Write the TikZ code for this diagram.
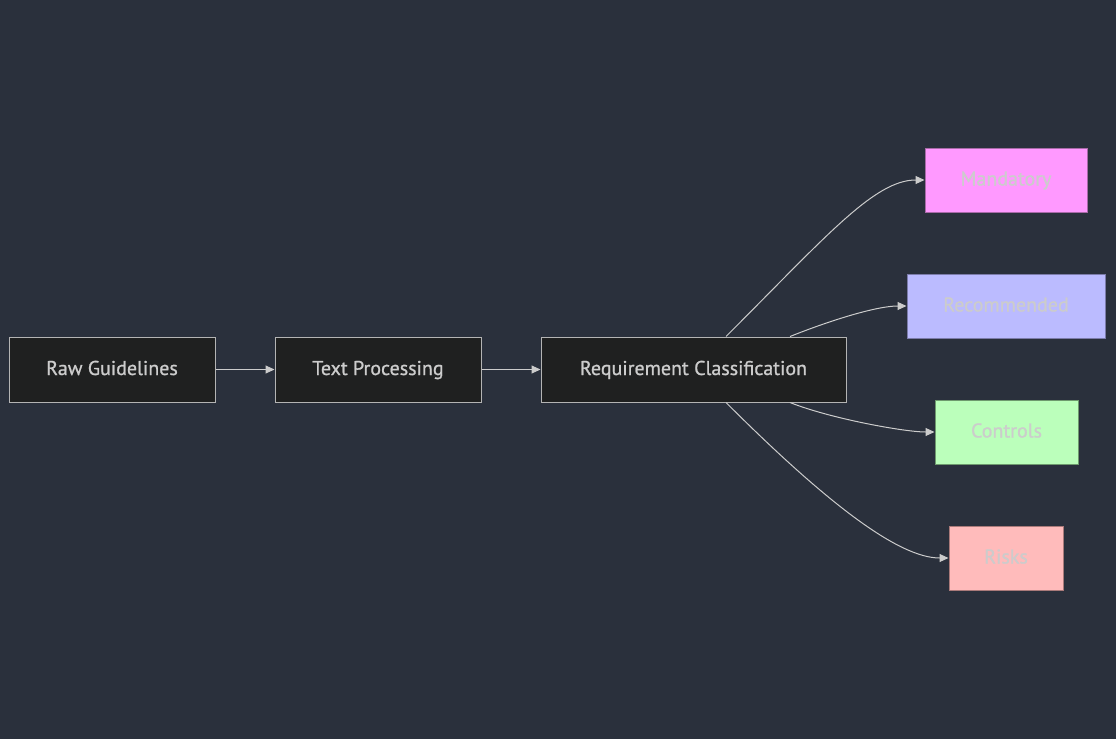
\documentclass[tikz,border=0pt]{standalone}
\usepackage{fontspec}
\setmainfont{PT Sans}
\newfontfamily\labelfont{PT Sans}[FakeBold=0.9]
\usetikzlibrary{arrows.meta}
\definecolor{bgnd}{HTML}{2A303C}
\definecolor{boxfill}{HTML}{1F2020}
\definecolor{boxline}{HTML}{B4B4B4}
\definecolor{ink}{HTML}{CCCCCC}
\definecolor{mandfill}{HTML}{FF99FF}
\definecolor{mandline}{HTML}{A86AA8}
\definecolor{recfill}{HTML}{BBBBFF}
\definecolor{recline}{HTML}{7C7CAA}
\definecolor{ctrlfill}{HTML}{BBFFBB}
\definecolor{ctrlline}{HTML}{6E9A6E}
\definecolor{riskfill}{HTML}{FFBBBB}
\definecolor{riskline}{HTML}{AA7A7A}

\tikzset{
  stage/.style={draw=boxline, fill=boxfill, text=ink, line width=1pt,
    minimum height=65pt, inner sep=0pt, text height=15pt, text depth=4pt,
    font=\labelfont\fontsize{20}{24}\selectfont},
  leaf/.style={stage, minimum height=64pt},
  link/.style={draw=ink, line width=1pt, -{Triangle[length=9pt,width=8pt]}}
}

\begin{document}
\begin{tikzpicture}[x=1pt,y=-1pt]
  \fill[bgnd] (0,0) rectangle (1116,739);
  \useasboundingbox (0,0) rectangle (1116,739);

  \node[stage, minimum width=206pt] (raw)  at (112,369.5) {Raw Guidelines};
  \node[stage, minimum width=206pt] (proc) at (378,369.5) {Text Processing};
  \node[stage, minimum width=305pt] (cls)  at (693.5,369.5) {Requirement Classification};

  \node[leaf, minimum width=162pt, fill=mandfill, draw=mandline] (mand) at (1006,180) {Mandatory};
  \node[leaf, minimum width=198pt, fill=recfill, draw=recline]  (rec)  at (1006,306) {Recommended};
  \node[leaf, minimum width=143pt, fill=ctrlfill, draw=ctrlline] (ctrl) at (1006.5,432) {Controls};
  \node[leaf, minimum width=114pt, fill=riskfill, draw=riskline] (risk) at (1006,558) {Risks};

  % straight chain
  \draw[link] (raw) -- (proc);
  \draw[link] (proc) -- (cls);
  % fan out to the classes
  \draw[link] ([xshift=32.5pt]cls.north) .. controls +(100,-100) and +(-50,0) .. (mand.west);
  \draw[link] ([xshift=96.5pt]cls.north) .. controls +(40,-16) and +(-30,0) .. (rec.west);
  \draw[link] ([xshift=96.5pt]cls.south) .. controls +(40,16) and +(-30,0) .. (ctrl.west);
  \draw[link] ([xshift=32.5pt]cls.south) .. controls +(100,100) and +(-50,0) .. (risk.west);
\end{tikzpicture}
\end{document}
